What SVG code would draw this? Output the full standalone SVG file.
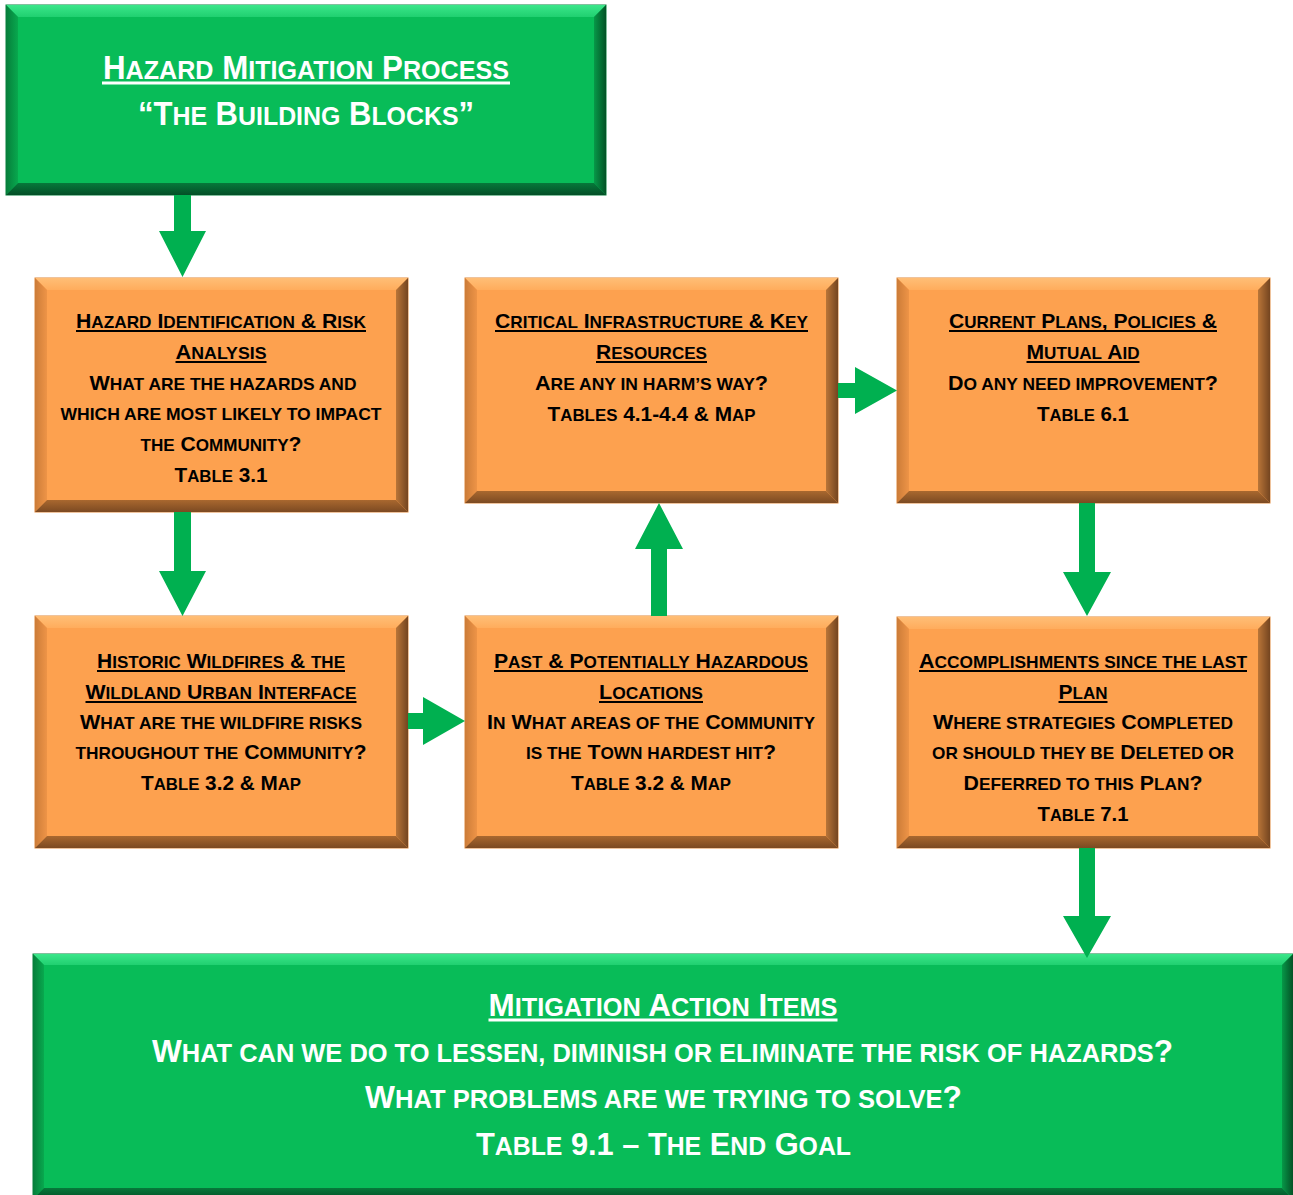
<svg xmlns="http://www.w3.org/2000/svg" width="1293" height="1195" viewBox="0 0 1293 1195">
<defs>
<linearGradient id="oT" x1="0" y1="0" x2="0" y2="1"><stop offset="0" stop-color="#FFBE76"/><stop offset="1" stop-color="#FFAC5C"/></linearGradient>
<linearGradient id="oL" x1="0" y1="0" x2="1" y2="0"><stop offset="0" stop-color="#CC7C38"/><stop offset="1" stop-color="#EE9447"/></linearGradient>
<linearGradient id="oR" x1="0" y1="0" x2="1" y2="0"><stop offset="0" stop-color="#B97538"/><stop offset="1" stop-color="#744520"/></linearGradient>
<linearGradient id="oB" x1="0" y1="0" x2="0" y2="1"><stop offset="0" stop-color="#A9682F"/><stop offset="1" stop-color="#7C4A22"/></linearGradient>
<linearGradient id="gT" x1="0" y1="0" x2="0" y2="1"><stop offset="0" stop-color="#3BE68A"/><stop offset="1" stop-color="#20D070"/></linearGradient>
<linearGradient id="gL" x1="0" y1="0" x2="1" y2="0"><stop offset="0" stop-color="#067E3B"/><stop offset="1" stop-color="#08A84E"/></linearGradient>
<linearGradient id="gR" x1="0" y1="0" x2="1" y2="0"><stop offset="0" stop-color="#079848"/><stop offset="1" stop-color="#035226"/></linearGradient>
<linearGradient id="gB" x1="0" y1="0" x2="0" y2="1"><stop offset="0" stop-color="#06793A"/><stop offset="1" stop-color="#044F27"/></linearGradient>
<style>
.of{fill:#FDA14F;stroke:#E0883A;stroke-width:1}
.gf{fill:#08BC58;stroke:#06803C;stroke-width:1}
.oT{fill:url(#oT)}.oL{fill:url(#oL)}.oR{fill:url(#oR)}.oB{fill:url(#oB)}
.gT{fill:url(#gT)}.gL{fill:url(#gL)}.gR{fill:url(#gR)}.gB{fill:url(#gB)}
text{font-family:"Liberation Sans",Arial,Helvetica,sans-serif;font-weight:bold;text-anchor:middle}
.s{text-transform:uppercase}
.o{font-size:21px;fill:#000}
.o .s{font-size:17px}
.w{fill:#fff}
.h{font-size:33px}
.h .s{font-size:26.5px}
.b{font-size:31px}
.b .s{font-size:25px}
.ub{stroke:#000;stroke-width:2}
.uw{stroke:#fff;stroke-width:3}
.arrow{fill:#00B050}
</style>
</defs>

<g id="node-title">
<rect class="gf" x="6" y="5" width="600" height="190"/>
<polygon class="gT" points="6,5 606,5 594,17 18,17"/>
<polygon class="gL" points="6,5 18,17 18,183 6,195"/>
<polygon class="gR" points="606,5 606,195 594,183 594,17"/>
<polygon class="gB" points="6,195 18,183 594,183 606,195"/>
<text class="w h" transform="translate(306 79) scale(0.948 1)" x="0" y="0">H<tspan class="s">azard</tspan> M<tspan class="s">itigation</tspan> P<tspan class="s">rocess</tspan></text>
<line class="uw" x1="102" y1="83" x2="510" y2="83"/>
<text class="w h" transform="translate(306 125) scale(0.94 1)" x="0" y="0">“T<tspan class="s">he</tspan> B<tspan class="s">uilding</tspan> B<tspan class="s">locks</tspan>”</text>
</g>

<g id="node-hazard-identification">
<rect class="of" x="35" y="278" width="373" height="234"/>
<polygon class="oT" points="35,278 408,278 396,290 47,290"/>
<polygon class="oL" points="35,278 47,290 47,500 35,512"/>
<polygon class="oR" points="408,278 408,512 396,500 396,290"/>
<polygon class="oB" points="35,512 47,500 396,500 408,512"/>
<text class="o" x="221" y="328" textLength="290" lengthAdjust="spacingAndGlyphs">H<tspan class="s">azard</tspan> I<tspan class="s">dentification</tspan> &amp; R<tspan class="s">isk</tspan></text>
<line class="ub" x1="76" y1="331" x2="366" y2="331"/>
<text class="o" x="221" y="359" textLength="91" lengthAdjust="spacingAndGlyphs">A<tspan class="s">nalysis</tspan></text>
<line class="ub" x1="175.5" y1="362" x2="266.5" y2="362"/>
<text class="o" x="223" y="390" textLength="267" lengthAdjust="spacingAndGlyphs">W<tspan class="s">hat are the hazards and</tspan></text>
<text class="o" x="221" y="420" textLength="321" lengthAdjust="spacingAndGlyphs"><tspan class="s">which are most likely to impact</tspan></text>
<text class="o" x="221" y="451" textLength="161" lengthAdjust="spacingAndGlyphs"><tspan class="s">the</tspan> C<tspan class="s">ommunity</tspan>?</text>
<text class="o" x="221" y="482" textLength="93" lengthAdjust="spacingAndGlyphs">T<tspan class="s">able</tspan> 3.1</text>
</g>

<g id="node-critical-infrastructure">
<rect class="of" x="465" y="278" width="373" height="225"/>
<polygon class="oT" points="465,278 838,278 826,290 477,290"/>
<polygon class="oL" points="465,278 477,290 477,491 465,503"/>
<polygon class="oR" points="838,278 838,503 826,491 826,290"/>
<polygon class="oB" points="465,503 477,491 826,491 838,503"/>
<text class="o" x="651.5" y="328" textLength="313" lengthAdjust="spacingAndGlyphs">C<tspan class="s">ritical</tspan> I<tspan class="s">nfrastructure</tspan> &amp; K<tspan class="s">ey</tspan></text>
<line class="ub" x1="495" y1="331" x2="808" y2="331"/>
<text class="o" x="651.5" y="359" textLength="111" lengthAdjust="spacingAndGlyphs">R<tspan class="s">esources</tspan></text>
<line class="ub" x1="596" y1="362" x2="707" y2="362"/>
<text class="o" x="651.5" y="390" textLength="233" lengthAdjust="spacingAndGlyphs">A<tspan class="s">re any in harm’s way</tspan>?</text>
<text class="o" x="651.5" y="421" textLength="208" lengthAdjust="spacingAndGlyphs">T<tspan class="s">ables</tspan> 4.1-4.4 &amp; M<tspan class="s">ap</tspan></text>
</g>

<g id="node-current-plans">
<rect class="of" x="897" y="278" width="373" height="225"/>
<polygon class="oT" points="897,278 1270,278 1258,290 909,290"/>
<polygon class="oL" points="897,278 909,290 909,491 897,503"/>
<polygon class="oR" points="1270,278 1270,503 1258,491 1258,290"/>
<polygon class="oB" points="897,503 909,491 1258,491 1270,503"/>
<text class="o" x="1083" y="328" textLength="268" lengthAdjust="spacingAndGlyphs">C<tspan class="s">urrent</tspan> P<tspan class="s">lans</tspan>, P<tspan class="s">olicies</tspan> &amp;</text>
<line class="ub" x1="949" y1="331" x2="1217" y2="331"/>
<text class="o" x="1083" y="359" textLength="113" lengthAdjust="spacingAndGlyphs">M<tspan class="s">utual</tspan> A<tspan class="s">id</tspan></text>
<line class="ub" x1="1026.5" y1="362" x2="1139.5" y2="362"/>
<text class="o" x="1083" y="390" textLength="270" lengthAdjust="spacingAndGlyphs">D<tspan class="s">o any need improvement</tspan>?</text>
<text class="o" x="1083" y="421" textLength="92" lengthAdjust="spacingAndGlyphs">T<tspan class="s">able</tspan> 6.1</text>
</g>

<g id="node-historic-wildfires">
<rect class="of" x="35" y="616" width="373" height="232"/>
<polygon class="oT" points="35,616 408,616 396,628 47,628"/>
<polygon class="oL" points="35,616 47,628 47,836 35,848"/>
<polygon class="oR" points="408,616 408,848 396,836 396,628"/>
<polygon class="oB" points="35,848 47,836 396,836 408,848"/>
<text class="o" x="221" y="668" textLength="248" lengthAdjust="spacingAndGlyphs">H<tspan class="s">istoric</tspan> W<tspan class="s">ildfires</tspan> &amp; <tspan class="s">the</tspan></text>
<line class="ub" x1="97" y1="671" x2="345" y2="671"/>
<text class="o" x="221" y="699" textLength="271" lengthAdjust="spacingAndGlyphs">W<tspan class="s">ildland</tspan> U<tspan class="s">rban</tspan> I<tspan class="s">nterface</tspan></text>
<line class="ub" x1="85.5" y1="702" x2="356.5" y2="702"/>
<text class="o" x="221" y="729" textLength="282" lengthAdjust="spacingAndGlyphs">W<tspan class="s">hat are the wildfire risks</tspan></text>
<text class="o" x="221" y="759" textLength="291" lengthAdjust="spacingAndGlyphs"><tspan class="s">throughout the</tspan> C<tspan class="s">ommunity</tspan>?</text>
<text class="o" x="221" y="790" textLength="160" lengthAdjust="spacingAndGlyphs">T<tspan class="s">able</tspan> 3.2 &amp; M<tspan class="s">ap</tspan></text>
</g>

<g id="node-past-hazardous-locations">
<rect class="of" x="465" y="616" width="373" height="232"/>
<polygon class="oT" points="465,616 838,616 826,628 477,628"/>
<polygon class="oL" points="465,616 477,628 477,836 465,848"/>
<polygon class="oR" points="838,616 838,848 826,836 826,628"/>
<polygon class="oB" points="465,848 477,836 826,836 838,848"/>
<text class="o" x="651" y="668" textLength="314" lengthAdjust="spacingAndGlyphs">P<tspan class="s">ast</tspan> &amp; P<tspan class="s">otentially</tspan> H<tspan class="s">azardous</tspan></text>
<line class="ub" x1="494" y1="671" x2="808" y2="671"/>
<text class="o" x="651" y="699" textLength="104" lengthAdjust="spacingAndGlyphs">L<tspan class="s">ocations</tspan></text>
<line class="ub" x1="599" y1="702" x2="703" y2="702"/>
<text class="o" x="651" y="729" textLength="328" lengthAdjust="spacingAndGlyphs">I<tspan class="s">n</tspan> W<tspan class="s">hat areas of the</tspan> C<tspan class="s">ommunity</tspan></text>
<text class="o" x="651" y="759" textLength="250" lengthAdjust="spacingAndGlyphs"><tspan class="s">is the</tspan> T<tspan class="s">own hardest hit</tspan>?</text>
<text class="o" x="651" y="790" textLength="160" lengthAdjust="spacingAndGlyphs">T<tspan class="s">able</tspan> 3.2 &amp; M<tspan class="s">ap</tspan></text>
</g>

<g id="node-accomplishments">
<rect class="of" x="897" y="617" width="373" height="231"/>
<polygon class="oT" points="897,617 1270,617 1258,629 909,629"/>
<polygon class="oL" points="897,617 909,629 909,836 897,848"/>
<polygon class="oR" points="1270,617 1270,848 1258,836 1258,629"/>
<polygon class="oB" points="897,848 909,836 1258,836 1270,848"/>
<text class="o" x="1083" y="668" textLength="328" lengthAdjust="spacingAndGlyphs">A<tspan class="s">ccomplishments since the last</tspan></text>
<line class="ub" x1="919" y1="671" x2="1247" y2="671"/>
<text class="o" x="1083" y="699" textLength="49" lengthAdjust="spacingAndGlyphs">P<tspan class="s">lan</tspan></text>
<line class="ub" x1="1058.5" y1="702" x2="1107.5" y2="702"/>
<text class="o" x="1083" y="729" textLength="300" lengthAdjust="spacingAndGlyphs">W<tspan class="s">here strategies</tspan> C<tspan class="s">ompleted</tspan></text>
<text class="o" x="1083" y="759" textLength="302" lengthAdjust="spacingAndGlyphs"><tspan class="s">or should they be</tspan> D<tspan class="s">eleted or</tspan></text>
<text class="o" x="1083" y="790" textLength="239" lengthAdjust="spacingAndGlyphs">D<tspan class="s">eferred to this</tspan> P<tspan class="s">lan</tspan>?</text>
<text class="o" x="1083" y="821" textLength="91" lengthAdjust="spacingAndGlyphs">T<tspan class="s">able</tspan> 7.1</text>
</g>

<g id="node-mitigation-action-items">
<rect class="gf" x="33" y="954" width="1260" height="244"/>
<polygon class="gT" points="33,954 1293,954 1282,965 44,965"/>
<polygon class="gL" points="33,954 44,965 44,1188 33,1199"/>
<polygon class="gR" points="1293,954 1293,1199 1282,1188 1282,965"/>
<polygon class="gB" points="33,1199 44,1188 1282,1188 1293,1199"/>
<text class="w b" x="663" y="1016" textLength="349" lengthAdjust="spacingAndGlyphs">M<tspan class="s">itigation</tspan> A<tspan class="s">ction</tspan> I<tspan class="s">tems</tspan></text>
<line class="uw" x1="488.5" y1="1020" x2="837.5" y2="1020"/>
<text class="w b" x="662.5" y="1062" textLength="1021" lengthAdjust="spacingAndGlyphs">W<tspan class="s">hat can we do to lessen, diminish or eliminate the risk of hazards</tspan>?</text>
<text class="w b" x="663.5" y="1108" textLength="597" lengthAdjust="spacingAndGlyphs">W<tspan class="s">hat problems are we trying to solve</tspan>?</text>
<text class="w b" x="663.5" y="1155" textLength="375" lengthAdjust="spacingAndGlyphs">T<tspan class="s">able</tspan> 9.1 – T<tspan class="s">he</tspan> E<tspan class="s">nd</tspan> G<tspan class="s">oal</tspan></text>
</g>

<g id="connectors">
<polygon class="arrow" points="174,195 191,195 191,231 206,231 182.5,277 159,231 174,231"/>
<polygon class="arrow" points="174,512 191,512 191,571 206,571 182.5,616 159,571 174,571"/>
<polygon class="arrow" points="408,713 423,713 423,697 465,721 423,745 423,729 408,729"/>
<polygon class="arrow" points="651,616 651,549 635,549 659,503 683,549 667,549 667,616"/>
<polygon class="arrow" points="838,383 855,383 855,367 897,390.5 855,414 855,398 838,398"/>
<polygon class="arrow" points="1079,503 1095,503 1095,572 1111,572 1087,616 1063,572 1079,572"/>
<polygon class="arrow" points="1079,848 1095,848 1095,916 1111,916 1087,958 1063,916 1079,916"/>
</g>
</svg>
